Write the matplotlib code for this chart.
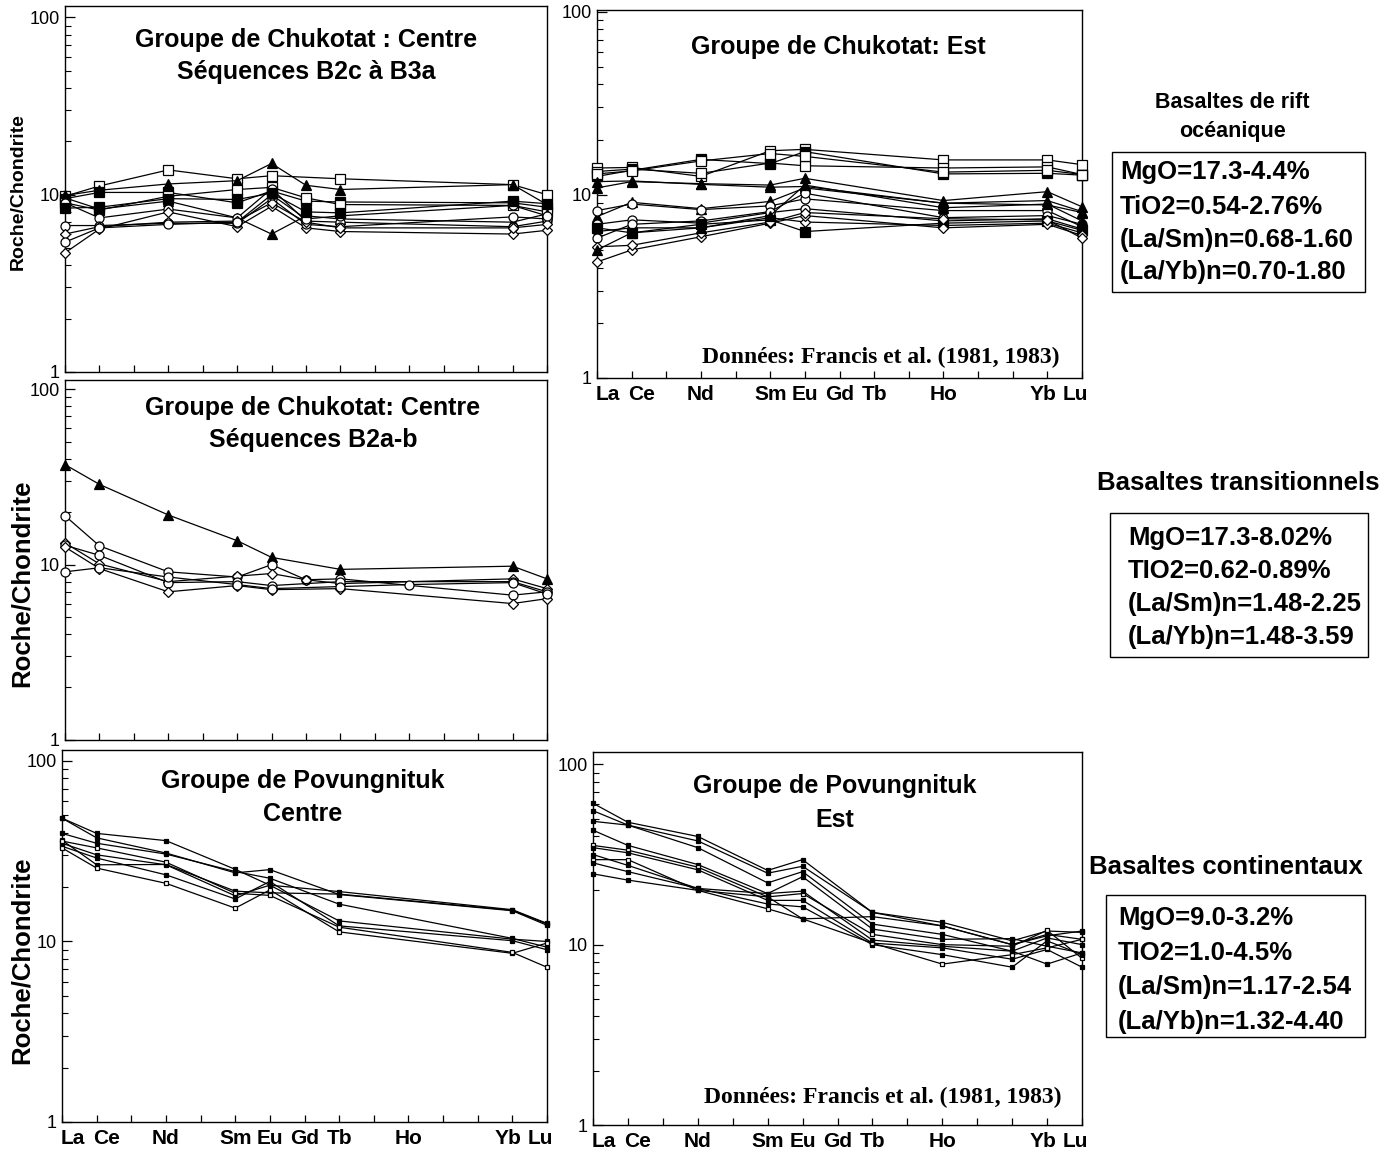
import numpy as np
import matplotlib
matplotlib.use('Agg')
import matplotlib.pyplot as plt
from matplotlib.ticker import FixedLocator, LogLocator, NullFormatter, FixedFormatter
from matplotlib.patches import Rectangle
from matplotlib.transforms import offset_copy

W, H = 1396, 1154
plt.rcParams['font.family'] = ['Liberation Sans', 'DejaVu Sans']

REE = ['La', 'Ce', 'Pr', 'Nd', 'Pm', 'Sm', 'Eu', 'Gd', 'Tb', 'Dy', 'Ho', 'Er', 'Tm', 'Yb', 'Lu']
REE_LABELS = ['La', 'Ce', '', 'Nd', '', 'Sm', 'Eu', 'Gd', 'Tb', '', 'Ho', '', '', 'Yb', 'Lu']

# ---------------- Panel A : Chukotat Centre, séquences B2c à B3a
a_elements = ['La', 'Ce', 'Nd', 'Sm', 'Eu', 'Gd', 'Tb', 'Yb', 'Lu']
a_series = [
    [9.8, 11.2, 13.8, 12.3, 12.8, np.nan, 12.3, 11.4, 10.0],
    [9.9, 10.6, 11.5, 12.0, 15.0, 11.3, 10.7, 11.4, 8.8],
    [9.5, 10.3, 10.3, 9.0, 10.5, 9.2, 9.1, 9.0, 8.5],
    [9.0, 8.2, 9.8, 10.7, 11.0, 9.6, 8.8, 8.7, 8.0],
    [9.6, 8.3, 9.2, 7.4, 6.0, 7.6, 7.3, 7.0, 7.8],
    [9.0, 7.4, 8.3, 7.4, 10.8, 7.1, 7.0, 6.6, 7.1],
    [4.7, 6.4, 8.0, 6.6, 8.6, 6.5, 6.2, 6.0, 6.3],
    [6.7, 6.7, 6.9, 6.9, 9.5, 6.8, 6.6, 7.5, 7.3],
    [6.0, 6.6, 7.0, 7.1, 9.0, 7.0, 6.5, 6.5, 6.8],
    [5.4, 6.5, 6.8, 7.0, 10.0, 7.3, 7.6, 8.7, 7.6],
    [8.4, 8.5, 9.5, 9.4, 10.2, 8.0, 7.9, 9.2, 8.9],
]
a_markers = ['os', 'ft', 'fs', 'os', 'ft', 'oc', 'od', 'oc', 'od', 'oc', 'fs']

# ---------------- Panel B : Chukotat Est
b_elements = ['La', 'Ce', 'Nd', 'Sm', 'Eu', 'Ho', 'Yb', 'Lu']
b_series = [
    [14.0, 14.1, 12.6, 17.4, 17.7, 15.5, 15.5, 14.6],
    [13.4, 13.8, 13.1, 14.9, 14.4, 14.0, 14.2, 12.9],
    [12.6, 13.6, 15.6, 14.8, 17.2, 13.0, 13.1, 12.8],
    [13.0, 13.5, 15.3, 16.8, 16.2, 13.3, 13.6, 12.9],
    [10.9, 11.8, 11.5, 11.3, 12.3, 9.3, 10.4, 8.6],
    [11.8, 11.9, 11.4, 11.0, 11.1, 9.0, 9.3, 8.1],
    [7.6, 9.1, 8.4, 9.2, 10.9, 9.0, 8.8, 8.0],
    [8.2, 8.9, 8.3, 8.7, 9.5, 8.2, 8.2, 6.7],
    [6.9, 7.3, 7.0, 8.0, 8.4, 7.2, 7.4, 6.5],
    [6.3, 6.6, 6.6, 7.5, 7.1, 6.8, 7.0, 6.2],
    [5.8, 6.9, 7.2, 8.1, 10.2, 7.5, 7.7, 6.9],
    [6.6, 6.2, 6.9, 7.3, 6.3, 7.0, 7.2, 6.4],
    [4.3, 5.0, 5.9, 7.0, 7.7, 6.6, 6.9, 6.0],
    [5.2, 5.3, 6.2, 7.1, 8.0, 7.4, 7.3, 5.8],
    [5.0, 6.2, 6.6, 7.7, 11.3, 8.5, 8.9, 7.2],
]
b_markers = ['os', 'os', 'fs', 'os', 'ft', 'ft', 'ft', 'oc', 'oc', 'od', 'oc', 'fs', 'od', 'od', 'ft']

# ---------------- Panel C : Chukotat Centre, séquences B2a-b
c_elements = ['La', 'Ce', 'Nd', 'Sm', 'Eu', 'Gd', 'Tb', 'Ho', 'Yb', 'Lu']
c_series = [
    [37.2, 28.7, 19.2, 13.7, 11.0, np.nan, 9.4, np.nan, 9.8, 8.3],
    [19.0, 12.8, 9.1, 8.5, 10.0, 8.2, 8.3, np.nan, 6.7, 7.0],
    [13.3, 10.1, 8.0, 8.6, 8.9, 8.2, 7.8, np.nan, 8.3, 7.3],
    [12.9, 11.3, 7.9, 8.0, 7.6, np.nan, 8.0, np.nan, 8.0, 7.0],
    [12.6, 9.5, 7.0, 7.6, 7.2, np.nan, 7.3, np.nan, 6.0, 6.4],
    [9.1, 9.6, 8.5, 7.7, 7.3, np.nan, 7.5, 7.7, 7.9, 6.8],
]
c_markers = ['ft', 'oc', 'od', 'oc', 'od', 'oc']

# ---------------- Panel D : Povungnituk Centre
d_elements = ['La', 'Ce', 'Nd', 'Sm', 'Eu', 'Tb', 'Yb', 'Lu']
d_series = [
    [48.2, 39.7, 36.2, 25.1, 20.5, 18.9, 15.0, 12.6],
    [48.2, 37.5, 30.9, 24.0, 25.0, 18.2, 14.8, 12.3],
    [39.7, 35.0, 30.5, 24.4, 22.4, 16.1, 10.4, 9.3],
    [36.4, 26.6, 26.7, 19.0, 18.6, 18.3, 14.9, 12.5],
    [35.0, 30.2, 26.6, 17.9, 20.5, 13.0, 10.3, 10.0],
    [33.7, 29.0, 23.4, 17.2, 21.5, 12.2, 10.1, 9.0],
    [33.0, 25.5, 21.0, 15.3, 19.3, 11.3, 8.6, 9.8],
    [36.0, 33.0, 27.5, 18.5, 18.0, 12.0, 8.7, 7.2],
]
d_markers = ['fs', 'fs', 'fs', 'fs', 'fs', 'fs', 'os', 'os']

# ---------------- Panel E : Povungnituk Est
e_elements = ['La', 'Ce', 'Nd', 'Sm', 'Eu', 'Tb', 'Ho', 'Tm', 'Yb', 'Lu']
e_series = [
    [60.8, 47.7, 39.8, 25.8, 29.6, 15.1, 13.3, 10.5, 11.9, 11.7],
    [55.3, 46.0, 37.6, 24.9, 27.2, 15.1, 12.7, 10.0, 11.4, 10.7],
    [48.3, 46.0, 34.5, 22.0, 25.4, 13.0, 11.4, 9.2, 10.9, 10.0],
    [43.1, 35.5, 27.8, 19.2, 23.8, 12.2, 10.7, 10.8, 9.8, 9.0],
    [35.5, 33.4, 26.9, 18.4, 19.2, 11.4, 10.0, 9.8, 12.0, 8.4],
    [34.5, 32.3, 26.0, 17.6, 17.6, 10.2, 9.6, 8.3, 9.4, 7.5],
    [31.6, 27.5, 20.5, 16.8, 16.2, 10.0, 8.8, 7.5, 10.5, 8.8],
    [29.6, 29.6, 20.0, 15.8, 13.9, 10.2, 7.8, 8.8, 9.6, 10.7],
    [28.4, 25.4, 20.5, 19.2, 19.8, 10.6, 9.8, 9.2, 7.8, 9.0],
    [24.7, 22.8, 20.0, 18.4, 13.9, 14.3, 12.7, 10.0, 11.2, 11.9],
]
e_markers = ['fs', 'fs', 'fs', 'fs', 'os', 'fs', 'fs', 'os', 'fs', 'fs']

titles = {
    'A': ['Groupe de Chukotat : Centre', 'Séquences B2c à B3a'],
    'B': ['Groupe de Chukotat: Est'],
    'C': ['Groupe de Chukotat: Centre', 'Séquences B2a-b'],
    'D': ['Groupe de Povungnituk', 'Centre'],
    'E': ['Groupe de Povungnituk', 'Est'],
}
source_text = 'Données: Francis et al. (1981, 1983)'
ylabel_text = 'Roche/Chondrite'

right_titles = ['Basaltes de rift\nocéanique', 'Basaltes transitionnels', 'Basaltes continentaux']
right_boxes = [
    ['MgO=17.3-4.4%', 'TiO2=0.54-2.76%', '(La/Sm)n=0.68-1.60', '(La/Yb)n=0.70-1.80'],
    ['MgO=17.3-8.02%', 'TIO2=0.62-0.89%', '(La/Sm)n=1.48-2.25', '(La/Yb)n=1.48-3.59'],
    ['MgO=9.0-3.2%', 'TIO2=1.0-4.5%', '(La/Sm)n=1.17-2.54', '(La/Yb)n=1.32-4.40'],
]

# ----------------------------------------------------------------------
fig = plt.figure(figsize=(W / 100, H / 100), dpi=100)
fig.patch.set_facecolor('white')


def rect(l, t, r, b):
    return [l / W, 1 - b / H, (r - l) / W, (b - t) / H]


def fx(x):
    return x / W


def fy(y):
    return 1 - y / H


STYLE = {
    'os': ('s', 'white'), 'fs': ('s', 'black'), 'ft': ('^', 'black'),
    'oc': ('o', 'white'), 'od': ('D', 'white'),
}

# horizontal nudges (pixels) of some element labels, as in the scanned figure
LABEL_SHIFT = {0: 11, 1: 10, 13: -4, 14: -7}


def make_ax(box, ymax, show_xlabels):
    ax = fig.add_axes(rect(*box))
    ax.set_yscale('log')
    ax.set_xlim(0, len(REE) - 1)
    ax.set_ylim(1, ymax)
    ax.yaxis.set_major_locator(FixedLocator([1, 10, 100]))
    ax.yaxis.set_major_formatter(FixedFormatter(['1', '10', '100']))
    ax.yaxis.set_minor_locator(LogLocator(base=10, subs=np.arange(2, 10)))
    ax.yaxis.set_minor_formatter(NullFormatter())
    ax.xaxis.set_major_locator(FixedLocator(list(range(len(REE)))))
    ax.set_xticklabels([''] * len(REE))
    if show_xlabels:
        for i, lab in enumerate(REE_LABELS):
            if not lab:
                continue
            tr = offset_copy(ax.get_xaxis_transform(), fig=fig,
                             x=LABEL_SHIFT.get(i, 0), y=-7, units='dots')
            ax.text(i, 0, lab, transform=tr, ha='center', va='top',
                    fontsize=15, fontweight='bold', clip_on=False)
    ax.tick_params(axis='x', direction='in', length=5, width=0.9, top=False)
    ax.tick_params(axis='y', which='major', direction='in', length=7, width=0.9,
                   labelsize=13, pad=4, right=False)
    ax.tick_params(axis='y', which='minor', direction='in', length=4, width=0.8, right=False)
    for s in ax.spines.values():
        s.set_linewidth(1.0)
        s.set_color('black')
    return ax


def draw(ax, elements, series, markers, ms, lw=0.9):
    xs = np.array([REE.index(e) for e in elements])
    for vals, mk in zip(series, markers):
        v = np.array(vals, dtype=float)
        ok = np.isfinite(v)
        shape, fc = STYLE[mk]
        size = ms * (0.8 if shape == 'D' else (1.1 if shape == '^' else 1.0))
        ax.plot(xs[ok], v[ok], color='black', lw=lw, marker=shape, mfc=fc,
                mec='black', mew=0.9, ms=size, clip_on=False, zorder=3)


axA = make_ax((65, 6, 547, 372), 116, False)
draw(axA, a_elements, a_series, a_markers, 6.5)
axB = make_ax((597, 10, 1082, 378), 102, True)
draw(axB, b_elements, b_series, b_markers, 6.5)
axC = make_ax((65, 380, 547, 740), 113, False)
draw(axC, c_elements, c_series, c_markers, 6.5)
axD = make_ax((62, 750, 547, 1122), 115, True)
draw(axD, d_elements, d_series, d_markers, 3.2)
axE = make_ax((593, 752, 1082, 1125), 117, True)
draw(axE, e_elements, e_series, e_markers, 3.2)

# panel titles
title_pos = {'A': (306, 40, 72), 'B': (838, 47, None), 'C': (313, 408, 440),
             'D': (303, 781, 814), 'E': (835, 786, 820)}
for k, (cx, y1, y2) in title_pos.items():
    lines = titles[k]
    fig.text(fx(cx), fy(y1), lines[0], ha='center', va='center', fontsize=18, fontweight='bold')
    if len(lines) > 1:
        fig.text(fx(cx), fy(y2), lines[1], ha='center', va='center', fontsize=18, fontweight='bold')

# y labels
fig.text(fx(18), fy(192), ylabel_text, rotation=90, ha='center', va='center', fontsize=14, fontweight='bold')
fig.text(fx(22), fy(583), ylabel_text, rotation=90, ha='center', va='center', fontsize=18.5, fontweight='bold')
fig.text(fx(22), fy(960), ylabel_text, rotation=90, ha='center', va='center', fontsize=18.5, fontweight='bold')

# source notes
for (rx, yy) in [(1060, 357), (1062, 1097)]:
    fig.text(fx(rx), fy(yy), source_text, ha='right', va='center', fontsize=17,
             fontweight='bold', family=['Liberation Serif', 'DejaVu Serif'])

# right-side annotations
rt = [(right_titles[0], 1232, 117, 15.5), (right_titles[1], 1238, 483, 18.5),
      (right_titles[2], 1226, 867, 18.5)]
for t, cx, cy, fs in rt:
    fig.text(fx(cx), fy(cy), t, ha='center', va='center', fontsize=fs, fontweight='bold',
             linespacing=1.5)

boxes = [((1112, 152, 1365, 292), 1120, [172, 207, 240, 272]),
         ((1110, 513, 1368, 657), 1128, [538, 571, 604, 637]),
         ((1106, 895, 1365, 1037), 1118, [918, 953, 987, 1022])]
for lines, (b, tx, ys) in zip(right_boxes, boxes):
    l, t, r, bt = b
    fig.add_artist(Rectangle((fx(l), fy(bt)), (r - l) / W, (bt - t) / H,
                             transform=fig.transFigure, fill=False, ec='black', lw=1.0))
    for s, yy in zip(lines, ys):
        fig.text(fx(tx), fy(yy), s, ha='left', va='center', fontsize=18.5, fontweight='bold')

fig.savefig('out.png', dpi=100, facecolor='white')
